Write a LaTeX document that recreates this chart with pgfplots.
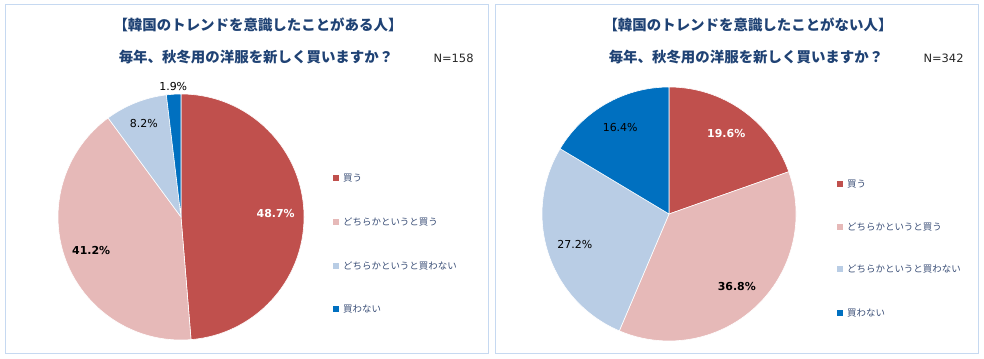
\documentclass[border=0pt]{standalone}
\usepackage{pgfplots}
\pgfplotsset{compat=1.18}
\usepackage{pgfplotstable}
\usepackage{fontspec}
\setmainfont{DejaVu Sans}
\newfontfamily\jp{Noto Sans CJK JP}

\definecolor{cRed}{HTML}{C0504D}
\definecolor{cPink}{HTML}{E6B9B8}
\definecolor{cLBlue}{HTML}{B9CDE5}
\definecolor{cBlue}{HTML}{0070C0}
\definecolor{frameC}{HTML}{C6D9F1}
\definecolor{titleC}{HTML}{1F4274}
\definecolor{legC}{HTML}{3C5078}

% value, fill colour, label colour, label weight, label radius (fraction of pie radius)
\pgfplotstableread{
value fill txt weight rad
48.7 cRed white b 0.77
41.2 cPink black b 0.78
8.2 cLBlue black m 0.82
1.9 cBlue black m 1.06
}\leftdata

\pgfplotstableread{
value fill txt weight rad
19.6 cRed white b 0.78
36.8 cPink black b 0.78
27.2 cLBlue black m 0.78
16.4 cBlue black m 0.78
}\rightdata

\newcommand\drawpie[2]{%
  \def\cum{0}%
  \pgfplotstablegetrowsof{#1}%
  \pgfmathtruncatemacro\lastrow{\pgfplotsretval-1}%
  \pgfplotsforeachungrouped \i in {0,...,\lastrow}{%
    \pgfplotstablegetelem{\i}{value}\of{#1}\let\val\pgfplotsretval
    \pgfplotstablegetelem{\i}{fill}\of{#1}\let\fc\pgfplotsretval
    \pgfplotstablegetelem{\i}{txt}\of{#1}\let\tc\pgfplotsretval
    \pgfplotstablegetelem{\i}{weight}\of{#1}\let\fw\pgfplotsretval
    \pgfplotstablegetelem{\i}{rad}\of{#1}\let\lr\pgfplotsretval
    \pgfmathsetmacro\sa{90-3.6*\cum}%
    \pgfmathsetmacro\ea{90-3.6*(\cum+\val)}%
    \pgfmathsetmacro\ma{(\sa+\ea)/2}%
    \pgfmathsetmacro\sx{cos(\sa)}%
    \pgfmathsetmacro\sy{sin(\sa)}%
    \pgfmathsetmacro\lx{\lr*cos(\ma)}%
    \pgfmathsetmacro\ly{\lr*sin(\ma)}%
    \pgfmathsetmacro\cum{\cum+\val}%
    \edef\temp{%
      \noexpand\fill[fill=\fc, draw=white, line width=0.6pt, line join=round] (axis cs:0,0) -- (axis cs:\sx,\sy) arc[start angle=\sa, end angle=\ea, radius=#2] -- cycle;
      \noexpand\node[text=\tc, font=\noexpand\fontsize{11}{13}\noexpand\fontseries{\fw}\noexpand\selectfont] at (axis cs:\lx,\ly) {\val\noexpand\%};
    }\temp
  }%
}

\begin{document}
\begin{tikzpicture}[x=1bp,y=1bp]
\path[use as bounding box] (0,0) rectangle (984,358);
\draw[frameC, line width=1bp] (5,5) rectangle (488,353);
\draw[frameC, line width=1bp] (495,5) rectangle (978,353);

% titles
\node[font=\jp\bfseries\fontsize{14.5}{17}\selectfont, text=titleC] at (258,333) {【韓国のトレンドを意識したことがある人】};
\node[font=\jp\bfseries\fontsize{14.5}{17}\selectfont, text=titleC] at (256,301) {毎年、秋冬用の洋服を新しく買いますか？};
\node[anchor=west, font=\fontsize{11.5}{13}\selectfont, text=black!85] at (430,300) {N=158};

\node[font=\jp\bfseries\fontsize{14.5}{17}\selectfont, text=titleC] at (748,333) {【韓国のトレンドを意識したことがない人】};
\node[font=\jp\bfseries\fontsize{14.5}{17}\selectfont, text=titleC] at (746,301) {毎年、秋冬用の洋服を新しく買いますか？};
\node[anchor=west, font=\fontsize{11.5}{13}\selectfont, text=black!85] at (920,300) {N=342};

% left pie
\begin{axis}[at={(181bp,141bp)}, anchor=center, scale only axis, width=246bp, height=246bp,
  xmin=-1, xmax=1, ymin=-1, ymax=1, hide axis, clip=false]
\addplot[draw=none] coordinates {(0,0)};
\drawpie{\leftdata}{123bp}
\end{axis}

% right pie
\begin{axis}[at={(669bp,144bp)}, anchor=center, scale only axis, width=254bp, height=254bp,
  xmin=-1, xmax=1, ymin=-1, ymax=1, hide axis, clip=false]
\addplot[draw=none] coordinates {(0,0)};
\drawpie{\rightdata}{127bp}
\end{axis}

% legends
\foreach \yy/\c/\t in {178/cRed/買う, 222/cPink/どちらかというと買う, 266/cLBlue/どちらかというと買わない, 309/cBlue/買わない}{
  \fill[\c] (333,358-\yy-3) rectangle +(6,6);
  \node[anchor=west, inner sep=0pt, text=legC, font=\jp\fontsize{9.5}{11}\selectfont] at (343,358-\yy) {\t};
}
\foreach \yy/\c/\t in {184/cRed/買う, 227/cPink/どちらかというと買う, 269/cLBlue/どちらかというと買わない, 313/cBlue/買わない}{
  \fill[\c] (837,358-\yy-3) rectangle +(6,6);
  \node[anchor=west, inner sep=0pt, text=legC, font=\jp\fontsize{9.5}{11}\selectfont] at (847,358-\yy) {\t};
}
\end{tikzpicture}
\end{document}
